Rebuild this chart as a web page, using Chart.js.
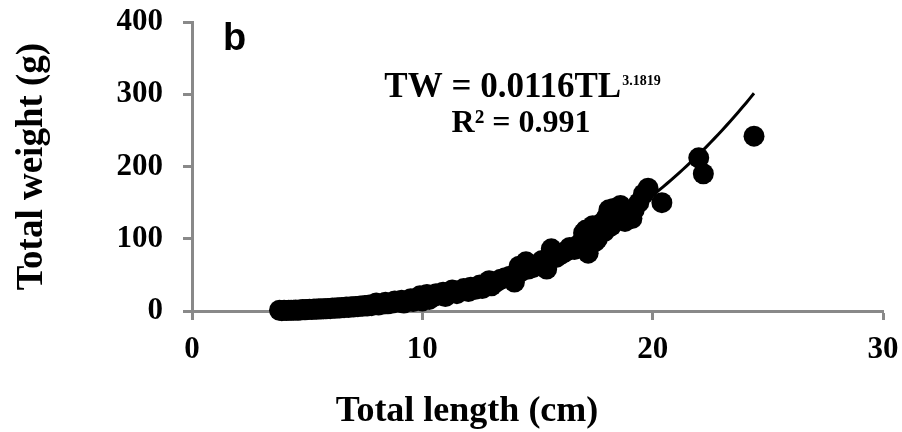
<!DOCTYPE html>
<html>
<head>
<meta charset="utf-8">
<script src="https://cdn.jsdelivr.net/npm/chart.js@4"></script>
<style>
  body { margin: 0; background: #fff; }
  .grafico { position: relative; width: 902px; height: 432px; }
</style>
</head>
<body>
<div class="grafico"><canvas id="myChart"></canvas></div>
<script>

// comprimento total (cm) e peso total (g) de cada peixe
const totalLength = [
  3.8, 3.9, 4.0, 4.1, 4.2, 4.3, 4.4, 4.5, 4.6, 4.7, 4.8, 4.9, 5.0, 5.1, 5.2, 5.3, 5.4, 5.5,
  5.6, 5.7, 5.8, 5.9, 6.0, 6.1, 6.2, 6.3, 6.4, 6.5, 6.6, 6.7, 6.8, 6.9, 7.0, 7.1, 7.2, 7.3,
  7.4, 7.5, 7.6, 7.7, 7.8, 7.9, 8.0, 8.1, 8.3, 8.4, 8.5, 8.7, 8.8, 9.0, 9.1, 9.2, 9.4, 9.5,
  9.6, 9.8, 9.9, 10.0, 10.1, 10.2, 10.3, 10.5, 10.6, 10.8, 10.9, 11.0, 11.2, 11.3, 11.5, 11.6,
  11.8, 12.0, 12.1, 12.3, 12.5, 12.6, 12.8, 12.9, 13.0, 13.2, 13.4, 13.6, 13.8, 14.0, 14.1, 14.2,
  14.3, 14.5, 14.6, 14.8, 15.0, 15.2, 15.4, 15.5, 15.6, 15.8, 16.0, 16.2, 16.4, 16.6, 16.8, 17.0,
  17.1, 17.2, 17.3, 17.4, 17.5, 17.6, 17.8, 17.9, 18.0, 18.1, 18.2, 18.3, 18.4, 18.5, 18.7, 18.8,
  19.0, 19.2, 19.4, 19.6, 19.8, 20.4, 22.0, 22.2, 24.4,
  16.9, 17.0, 17.3, 17.7, 18.0, 18.6, 17.6, 18.2, 19.1
];
const totalWeight = [
  1, 0.5, 1, 0.8, 1, 1.2, 1, 1.5, 1.2, 1.5, 2, 1.6, 2, 2.4, 2, 2.6, 2.4, 3,
  2.6, 3.2, 3, 3.6, 3.2, 4, 3.8, 4.4, 4, 5, 4.6, 5.4, 5, 6, 5.6, 6.4, 6, 7,
  6.6, 7.6, 7, 8.2, 7.4, 9, 11, 8.4, 9.6, 12, 10, 11, 14, 12, 15, 11, 14, 17,
  13, 16, 21, 14, 18, 23, 16, 20, 24, 22, 26, 20, 25, 29, 24, 28,
  31, 27, 33, 30, 36, 31, 38, 42, 35, 40, 44, 46, 48, 40, 52, 62,
  55, 68, 58, 60, 64, 70, 58, 75, 86, 74, 78, 82, 88, 85, 92, 100,
  112, 80, 104, 118, 96, 108, 122, 110, 130, 140, 118, 142, 128, 138, 132, 124,
  135, 140, 150, 162, 170, 150, 212, 190, 242,
  88, 108, 92, 114, 124, 146, 100, 132, 128
];

// eixos
const xTicks = [0, 10, 20, 30];
const yTicks = [0, 100, 200, 300, 400];

// ajuste TW = a * TL^b
const fitA = 0.0116;
const fitB = 3.1819;
const fitR2 = 0.991;

const pontos = totalLength.map((x, i) => ({ x: x, y: totalWeight[i] }));

const tlMin = Math.min(...totalLength);
const tlMax = Math.max(...totalLength);
const curva = [];
for (let i = 0; i <= 120; i++) {
  const x = tlMin + (tlMax - tlMin) * i / 120;
  curva.push({ x: x, y: fitA * Math.pow(x, fitB) });
}

const serif = '"Liberation Serif", "Times New Roman", serif';
const cinza = '#898989';

// textos soltos: letra do painel, equacao e titulo do eixo x
const textos = {
  id: 'textos',
  afterDraw(chart) {
    const c = chart.ctx;
    c.save();
    c.fillStyle = '#000';
    c.textBaseline = 'alphabetic';
    c.textAlign = 'left';

    c.font = 'bold 38px "Liberation Sans", Arial, sans-serif';
    c.fillText('b', 223, 50);

    const linha1 = 'TW = ' + fitA + 'TL';
    const expo = String(fitB);
    c.font = 'bold 35px ' + serif;
    const w1 = c.measureText(linha1).width;
    c.font = 'bold 14px ' + serif;
    const w2 = c.measureText(expo).width;
    const x0 = 522 - (w1 + w2) / 2;
    c.font = 'bold 35px ' + serif;
    c.fillText(linha1, x0, 97);
    c.font = 'bold 14px ' + serif;
    c.fillText(expo, x0 + w1 + 1, 85);

    c.textAlign = 'center';
    c.font = 'bold 32px ' + serif;
    c.fillText('R² = ' + fitR2, 521, 132);

    c.font = 'bold 36px ' + serif;
    c.fillText('Total length (cm)', 467, 421);
    c.restore();
  }
};

const ctx = document.getElementById('myChart');

new Chart(ctx, {
  type: 'scatter',
  data: {
    datasets: [{
      type: 'line',
      label: 'Ajuste',
      data: curva,
      borderColor: '#000',
      borderWidth: 3,
      pointRadius: 0,
      tension: 0,
      fill: false,
      clip: false
    }, {
      label: 'Peixes',
      data: pontos,
      backgroundColor: '#000',
      borderColor: '#000',
      borderWidth: 0,
      pointRadius: 10.5,
      pointHoverRadius: 10.5,
      clip: false
    }]
  },
  options: {
    responsive: true,
    maintainAspectRatio: false,
    animation: false,
    events: [],
    layout: {
      padding: 0
    },
    plugins: {
      legend: { display: false },
      tooltip: { enabled: false }
    },
    scales: {
      x: {
        type: 'linear',
        min: xTicks[0],
        max: xTicks[xTicks.length - 1],
        afterBuildTicks(scale) {
          scale.ticks = xTicks.map(v => ({ value: v }));
        },
        afterFit(scale) {
          scale.height = 121;
          scale.paddingLeft = 0;
          scale.paddingRight = 19;
        },
        border: { color: cinza, width: 3 },
        grid: {
          drawOnChartArea: false,
          tickLength: 9,
          tickColor: cinza,
          tickWidth: 3
        },
        ticks: {
          color: '#000',
          padding: 11,
          font: { family: serif, size: 31, weight: 'bold' }
        }
      },
      y: {
        min: yTicks[0],
        max: yTicks[yTicks.length - 1],
        afterBuildTicks(scale) {
          scale.ticks = yTicks.map(v => ({ value: v }));
        },
        afterFit(scale) {
          scale.width = 192;
          scale.paddingTop = 22;
          scale.paddingBottom = 0;
        },
        border: { color: cinza, width: 3 },
        grid: {
          drawOnChartArea: false,
          tickLength: 9,
          tickColor: cinza,
          tickWidth: 3
        },
        ticks: {
          color: '#000',
          padding: 20,
          font: { family: serif, size: 31, weight: 'bold' }
        },
        title: {
          display: true,
          text: 'Total weight (g)',
          color: '#000',
          padding: { top: 10, bottom: 0 },
          font: { family: serif, size: 37, weight: 'bold' }
        }
      }
    }
  },
  plugins: [textos]
});
</script>
</body>
</html>
